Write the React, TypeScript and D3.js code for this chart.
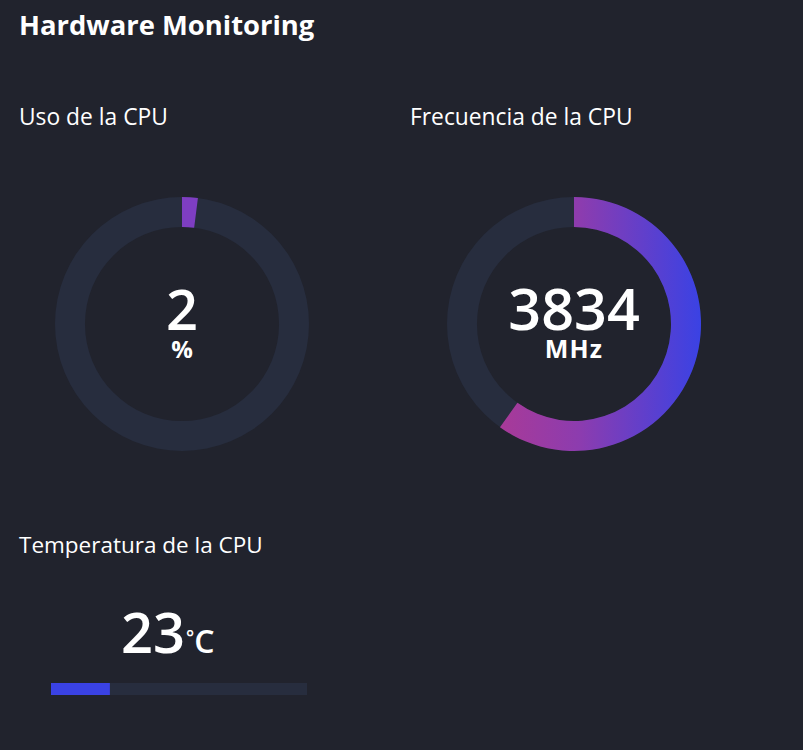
import React from "react";
import * as d3 from "d3";

const title = "Hardware Monitoring";
const gaugeLabels = ["Uso de la CPU", "Frecuencia de la CPU"];
const gaugeValues = [2, 3834];
const gaugeMax = [100, 6400];
const gaugeUnits = ["%", "MHz"];
const tempLabel = "Temperatura de la CPU";
const tempValue = 23;
const tempMax = 100;
const tempDegree = "°";
const tempUnit = "C";

const W = 803;
const H = 750;
const BG = "#21232d";
const TRACK = "#272d3e";
const FONT = "'Open Sans', 'Noto Sans', sans-serif";

function Gauge({ cx, cy, value, max, unit, gradId, solid, numSize, unitSize, unitSpacing }: any) {
  const outer = 127;
  const inner = 97;
  const angle = d3.scaleLinear().domain([0, max]).range([0, 2 * Math.PI]);
  const arcGen = d3.arc<any>().innerRadius(inner).outerRadius(outer);
  const track = arcGen({ startAngle: 0, endAngle: 2 * Math.PI }) as string;
  const val = arcGen({ startAngle: 0, endAngle: angle(value) }) as string;
  return (
    <g transform={`translate(${cx},${cy})`}>
      <path d={track} fill={TRACK} />
      <path d={val} fill={solid ? solid : `url(#${gradId})`} />
      <text x={0} y={6} textAnchor="middle" fill="#fff" fontSize={numSize} fontWeight={600} fontFamily={FONT}>
        {value}
      </text>
      <text x={0} y={34} textAnchor="middle" fill="#fff" fontSize={unitSize} fontWeight={700} fontFamily={FONT} letterSpacing={unitSpacing}>
        {unit}
      </text>
    </g>
  );
}

export default function App() {
  const barX = d3.scaleLinear().domain([0, tempMax]).range([51, 307]);
  return (
    <svg width={W} height={H} style={{ position: "absolute", left: 0, top: 0, display: "block" }}>
      <defs>
        <linearGradient id="freqGrad" x1="0" y1="0" x2="1" y2="0">
          <stop offset="0%" stopColor="#a83a98" />
          <stop offset="40%" stopColor="#8c3caf" />
          <stop offset="100%" stopColor="#3a42e4" />
        </linearGradient>
      </defs>
      <rect width={W} height={H} fill={BG} />
      <text x={19} y={35} fill="#fff" fontSize={27.4} fontWeight={700} fontFamily={FONT}>
        {title}
      </text>
      <text x={19} y={125} fill="#fff" fontSize={22.8} fontFamily={FONT}>
        {gaugeLabels[0]}
      </text>
      <text x={410} y={125} fill="#fff" fontSize={22.8} fontFamily={FONT}>
        {gaugeLabels[1]}
      </text>
      <Gauge cx={182} cy={324} value={gaugeValues[0]} max={gaugeMax[0]} unit={gaugeUnits[0]} solid="#7e3ec2" numSize={56} unitSize={24} unitSpacing={0} />
      <Gauge cx={574} cy={324} value={gaugeValues[1]} max={gaugeMax[1]} unit={gaugeUnits[1]} gradId="freqGrad" numSize={57.5} unitSize={25} unitSpacing={1.2} />
      <text x={19} y={553} fill="#fff" fontSize={22.5} fontFamily={FONT}>
        {tempLabel}
      </text>
      <text x={121} y={653} fill="#fff" fontSize={56} fontWeight={600} fontFamily={FONT}>
        {tempValue}
      </text>
      <text x={186} y={653} fill="#fff" fontWeight={600} fontFamily={FONT}>
        <tspan fontSize={19} dy={-9}>{tempDegree}</tspan>
        <tspan fontSize={32} dy={9}>{tempUnit}</tspan>
      </text>
      <rect x={barX(0)} y={683} width={barX(tempMax) - barX(0)} height={12} fill={TRACK} />
      <rect x={barX(0)} y={683} width={barX(tempValue) - barX(0)} height={12} fill="#3a42e4" />
    </svg>
  );
}
